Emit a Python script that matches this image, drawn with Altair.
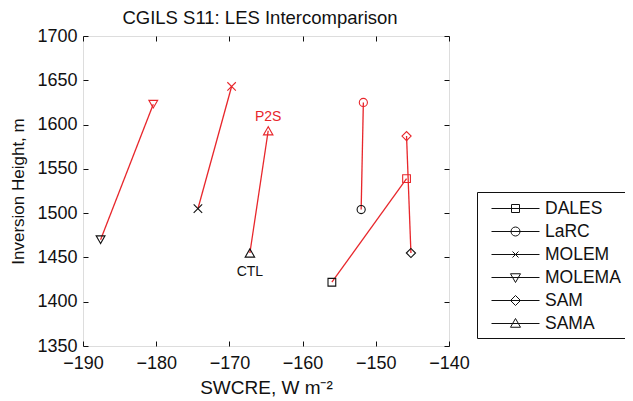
import altair as alt
import pandas as pd

models = ["DALES", "LaRC", "MOLEM", "MOLEMA", "SAM", "SAMA"]
ctl_swcre = [-156.0, -152.0, -174.3, -187.6, -145.2, -167.2]
ctl_zi = [1422, 1504, 1505, 1470, 1455, 1455]
p2s_swcre = [-145.8, -151.7, -169.7, -180.4, -145.8, -164.7]
p2s_zi = [1539, 1625, 1643, 1623, 1587, 1593]

ann_text = ["P2S", "CTL"]
ann_x = [-164.7, -167.2]
ann_y = [1609, 1434]
ann_color = ["#e8262b", "#111111"]

x_ticks = [-190, -180, -170, -160, -150, -140]
y_ticks = [1350, 1400, 1450, 1500, 1550, 1600, 1650, 1700]

RED = "#e8262b"
BLACK = "#111111"
FONT = "Liberation Sans"
W, H = 366, 310

rows = []
for i, m in enumerate(models):
    rows.append({"Model": m, "Case": "CTL", "ord": 0, "SWCRE": ctl_swcre[i], "Zi": ctl_zi[i]})
    rows.append({"Model": m, "Case": "P2S", "ord": 1, "SWCRE": p2s_swcre[i], "Zi": p2s_zi[i]})
df = pd.DataFrame(rows)
ann = pd.DataFrame({"t": ann_text, "SWCRE": ann_x, "Zi": ann_y, "c": ann_color})

xscale = alt.Scale(domain=[-190, -140], nice=False, zero=False)
yscale = alt.Scale(domain=[1350, 1700], nice=False, zero=False)

main_x = alt.Axis(values=x_ticks, format="d", title="SWCRE, W m⁻²", ticks=False, domain=False,
                  grid=False, labelFontSize=18, labelPadding=8, labelFont=FONT, labelColor=BLACK,
                  labelFlush=False, labelOverlap=False,
                  titleFontSize=19, titleFont=FONT, titleFontWeight="normal", titleColor=BLACK,
                  titlePadding=6)
main_y = alt.Axis(values=y_ticks, format="d", title="Inversion Height, m", ticks=False, domain=False,
                  grid=False, labelFontSize=18, labelPadding=6, labelFont=FONT, labelColor=BLACK,
                  labelFlush=False, labelOverlap=False,
                  titleFontSize=17, titleFont=FONT, titleFontWeight="normal", titleColor=BLACK,
                  titlePadding=9)


def tick_axis(orient, offset, vals):
    return alt.Axis(orient=orient, offset=offset, values=vals, labels=False, domain=False, grid=False,
                    ticks=True, tickSize=5, tickColor=BLACK, tickWidth=1, title=None)


lines = alt.Chart(df).mark_line(color=RED, strokeWidth=1.3).encode(
    x=alt.X("SWCRE:Q", scale=xscale, axis=main_x),
    y=alt.Y("Zi:Q", scale=yscale, axis=main_y),
    detail="Model:N",
    order="ord:O",
)

shapes = ["square", "circle", "M-1,-1L1,1M-1,1L1,-1", "triangle-down", "diamond", "triangle-up"]
sizes = [60, 90, 45, 140, 110, 140]

points = alt.Chart(df).mark_point(filled=False, strokeWidth=1.1, opacity=1).encode(
    x=alt.X("SWCRE:Q", scale=xscale, axis=tick_axis("top", -H, x_ticks)),
    y=alt.Y("Zi:Q", scale=yscale, axis=tick_axis("right", -W, y_ticks)),
    shape=alt.Shape("Model:N", scale=alt.Scale(domain=models, range=shapes), legend=None),
    size=alt.Size("Model:N", scale=alt.Scale(domain=models, range=sizes), legend=None),
    color=alt.Color("Case:N", scale=alt.Scale(domain=["CTL", "P2S"], range=[BLACK, RED]), legend=None),
)

texts = alt.Chart(ann).mark_text(font=FONT, fontSize=14).encode(
    x=alt.X("SWCRE:Q", scale=xscale, axis=tick_axis("bottom", -H, x_ticks)),
    y=alt.Y("Zi:Q", scale=yscale, axis=tick_axis("left", -W, y_ticks)),
    text="t:N",
    color=alt.Color("c:N", scale=None),
)

# legend symbols: line with marker in the middle; 1 unit = 10 px (symbolSize 400)
L = 2.4
s = 0.4
r = 0.45
xx = 0.3
t = 0.5
d = 0.5
legend_paths = [
    f"M-{L},0H{L}M-{s},-{s}H{s}V{s}H-{s}Z",
    f"M-{L},0H{L}M-{r},0A{r},{r} 0 1,0 {r},0A{r},{r} 0 1,0 -{r},0Z",
    f"M-{L},0H{L}M-{xx},-{xx}L{xx},{xx}M-{xx},{xx}L{xx},-{xx}",
    f"M-{L},0H{L}M-{t},-{t*0.75}H{t}L0,{t}Z",
    f"M-{L},0H{L}M0,-{d}L{d},0L0,{d}L-{d},0Z",
    f"M-{L},0H{L}M-{t},{t*0.75}H{t}L0,-{t}Z",
]

legend_layer = alt.Chart(df).mark_point(filled=False, opacity=0, color=BLACK).encode(
    x=alt.X("SWCRE:Q", scale=xscale, axis=None),
    y=alt.Y("Zi:Q", scale=yscale, axis=None),
    shape=alt.Shape(
        "Model:N",
        scale=alt.Scale(domain=models, range=legend_paths),
        legend=alt.Legend(
            title=None, orient="none", legendX=394, legendY=156,
            strokeColor=BLACK, fillColor="white", padding=6,
            labelFontSize=17.5, labelFont=FONT, labelColor=BLACK, labelOffset=19,
            symbolSize=400, symbolStrokeWidth=1, symbolStrokeColor=BLACK,
            symbolFillColor="transparent", symbolOffset=22, rowPadding=4,
        ),
    ),
)

chart = alt.layer(lines, points, texts, legend_layer).resolve_scale(
    shape="independent", color="independent", size="independent"
).resolve_axis(x="independent", y="independent").properties(
    width=W, height=H,
    autosize="none",
    padding={"left": 75, "top": 28, "right": 176, "bottom": 54},
    title=alt.TitleParams("CGILS S11: LES Intercomparison", fontSize=18.5, fontWeight="normal",
                          font=FONT, color=BLACK, anchor="middle", frame="group", offset=0, dx=-6),
).configure_view(stroke=BLACK, strokeWidth=1).configure(background="white")

chart.save("out.html", embed_options={"renderer": "svg", "actions": False})
